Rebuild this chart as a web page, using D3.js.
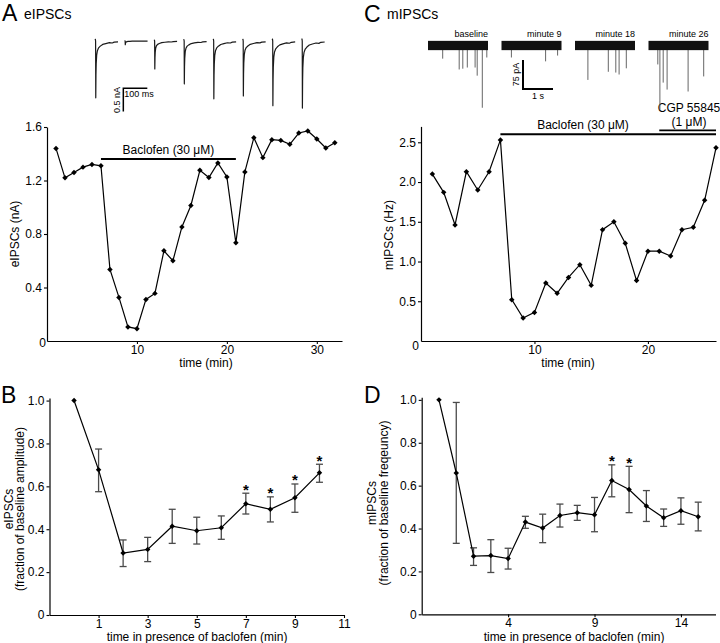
<!DOCTYPE html>
<html><head><meta charset="utf-8">
<script src="https://cdn.jsdelivr.net/npm/d3@7"></script>
<style>
body{margin:0;background:#fff}
svg{display:block}
text{font-family:"Liberation Sans",Arial,Helvetica,sans-serif;fill:#000}
</style>
</head><body>
<svg id="c" width="720" height="643"></svg>
<script>
// ---------- Panel A: eIPSC amplitude over time ----------
const aMinutes = [1,2,3,4,5,6,7,8,9,10,11,12,13,14,15,16,17,18,19,20,21,22,23,24,25,26,27,28,29,30,31,32];
const aAmplitudeNA = [1.44,1.22,1.26,1.30,1.32,1.31,0.535,0.326,0.105,0.092,0.311,0.356,0.674,0.600,0.853,1.013,1.276,1.222,1.331,1.227,0.734,1.264,1.520,1.371,1.505,1.500,1.471,1.555,1.570,1.510,1.443,1.483];
const aBaclofen = [6, 21];
const aBaclofenLevel = 1.36;
const aXTicks = [10, 20, 30];
const aYTicks = [0.4, 0.8, 1.2, 1.6];

// ---------- Panel C: mIPSC frequency over time ----------
const cMinutes = [1,2,3,4,5,6,7,8,9,10,11,12,13,14,15,16,17,18,19,20,21,22,23,24,25,26];
const cFrequencyHz = [2.10,1.87,1.46,2.13,1.90,2.13,2.53,0.52,0.29,0.36,0.73,0.60,0.80,0.96,0.70,1.40,1.50,1.23,0.76,1.13,1.13,1.07,1.40,1.43,1.77,2.43];
const cBaclofen = [7, 26];
const cBaclofenLevel = 2.60;
const cCgp = [21, 26];
const cCgpLevel = 2.65;
const cXTicks = [10, 20];
const cYTicks = [0.5, 1.0, 1.5, 2.0, 2.5];

// ---------- Panel B: normalized eIPSC ----------
const bMinutes = [0,1,2,3,4,5,6,7,8,9,10];
const bMean  = [1.0,0.677,0.289,0.306,0.414,0.393,0.407,0.519,0.493,0.547,0.663];
const bUpper = [1.0,0.774,0.350,0.362,0.493,0.456,0.462,0.568,0.551,0.611,0.703];
const bLower = [1.0,0.575,0.226,0.249,0.334,0.331,0.353,0.471,0.434,0.479,0.619];
const bSignificant = [7, 8, 9, 10];
const bXTicks = [1, 3, 5, 7, 9, 11];
const bYTicks = [0, 0.2, 0.4, 0.6, 0.8, 1.0];

// ---------- Panel D: normalized mIPSC ----------
const dMinutes = [0,1,2,3,4,5,6,7,8,9,10,11,12,13,14,15];
const dMean  = [1.0,0.659,0.271,0.274,0.260,0.430,0.402,0.461,0.474,0.464,0.624,0.582,0.505,0.450,0.483,0.455];
const dUpper = [1.0,0.988,0.310,0.348,0.308,0.457,0.467,0.514,0.508,0.545,0.697,0.690,0.577,0.491,0.543,0.523];
const dLower = [1.0,0.331,0.228,0.195,0.211,0.401,0.334,0.407,0.438,0.385,0.548,0.474,0.433,0.410,0.420,0.389];
const dSignificant = [10, 11];
const dXTicks = [4, 9, 14];
const dYTicks = [0, 0.2, 0.4, 0.6, 0.8, 1.0];

// ---------- Example traces ----------
const eSweepAmplitudeNA = [1.22, 0.08, 0.60, 0.92, 1.24, 1.18, 1.39, 1.44];
const eSweepShape = [[0,0.02],[1.5,0.03],[2.5,0],[3.2,-1],[4,-0.6],[5,-0.4],[7,-0.25],[10,-0.17],[15,-0.12],[22,-0.09],[32,-0.06],[45,-0.045],[60,-0.03],[72,-0.035],[80,-0.02],[96,-0.015]];
const eScaleNA = 0.5, eScaleMS = 100;
const mTraceLabels = ["baseline", "minute 9", "minute 18", "minute 26"];
const mTraceEvents = [
  [[0.49,34],[1.04,62],[1.16,60],[1.31,57],[1.57,57],[1.64,78],[1.81,161],[1.96,31]],
  [[0.33,31],[1.47,41],[1.87,26]],
  [[0.43,89],[1.11,68],[1.36,70],[1.47,75],[1.71,59]],
  [[0.31,49],[0.38,166],[0.49,96],[0.62,114],[1.32,119],[1.84,80]]
];
const mTraceDurationS = 2;
const mNoisePA = 12;
const mScalePA = 75, mScaleS = 1;

// ================= drawing =================
const svg = d3.select("#c");
const FONT = '"Liberation Sans",Arial,Helvetica,sans-serif';
const fmtY = d => d === 0 ? "0" : d3.format(".1f")(d);
const diamond = d3.symbol(d3.symbolSquare, 15);

function styleAxis(g){
  g.attr("font-size", 12).attr("font-family", FONT);
  g.selectAll("path.domain").attr("stroke", "#000").attr("stroke-width", 1.2);
  g.selectAll(".tick line").attr("stroke", "#000").attr("stroke-width", 1.1);
  g.selectAll(".tick text").attr("fill", "#000");
}

function axes(x, y, xTicks, yTicks, yFmt, yAxisX){
  svg.append("g").attr("transform", `translate(0,${y.range()[0]})`)
    .call(d3.axisBottom(x).tickValues(xTicks).tickSize(3).tickSizeOuter(0).tickPadding(1).tickFormat(d3.format("d")))
    .call(styleAxis);
  svg.append("g").attr("transform", `translate(${yAxisX},0)`)
    .call(d3.axisLeft(y).tickValues(yTicks).tickSize(3).tickSizeOuter(0).tickPadding(2).tickFormat(yFmt))
    .call(styleAxis);
}

function series(x, y, xs, ys){
  const pts = xs.map((d,i)=>[x(d), y(ys[i])]);
  svg.append("path").attr("d", d3.line()(pts)).attr("fill","none").attr("stroke","#000").attr("stroke-width",1.2);
  svg.append("g").selectAll("path").data(pts).join("path")
    .attr("d", diamond).attr("fill","#000")
    .attr("transform", d=>`translate(${d[0]},${d[1]}) rotate(45)`);
}

function errorBars(x, y, xs, up, lo){
  const g = svg.append("g").attr("stroke","#4a4a4a").attr("stroke-width",1.3).attr("fill","none");
  xs.forEach((d,i)=>{
    if (up[i] === lo[i]) return;
    const cx = x(d);
    g.append("line").attr("x1",cx).attr("x2",cx).attr("y1",y(up[i])).attr("y2",y(lo[i]));
    g.append("line").attr("x1",cx-3.5).attr("x2",cx+3.5).attr("y1",y(up[i])).attr("y2",y(up[i]));
    g.append("line").attr("x1",cx-3.5).attr("x2",cx+3.5).attr("y1",y(lo[i])).attr("y2",y(lo[i]));
  });
}

function stars(x, y, xs, up, sig){
  sig.forEach(m=>{
    const i = xs.indexOf(m);
    svg.append("text").attr("x", x(m)).attr("y", y(up[i]) + 1.5)
      .attr("text-anchor","middle").attr("font-size",15).attr("font-weight","bold").text("*");
  });
}

function text(x, y, s, size, anchor, rot){
  const t = svg.append("text").attr("font-size", size).attr("text-anchor", anchor || "start");
  if (rot) t.attr("transform", `translate(${x},${y}) rotate(${rot})`);
  else t.attr("x", x).attr("y", y);
  t.text(s);
  return t;
}

// ---- Panel A ----
const ax = d3.scaleLinear().domain([0, 32.8]).range([47, 342]);
const ay = d3.scaleLinear().domain([0, 1.6]).range([341, 127]);
axes(ax, ay, aXTicks, aYTicks, fmtY, ax(0));
text(46, 347, "0", 12, "end");
series(ax, ay, aMinutes, aAmplitudeNA);
svg.append("line").attr("x1", ax(aBaclofen[0])).attr("x2", ax(aBaclofen[1]))
  .attr("y1", ay(aBaclofenLevel)).attr("y2", ay(aBaclofenLevel)).attr("stroke","#000").attr("stroke-width",2);
text(ax((aBaclofen[0]+aBaclofen[1])/2), 154, "Baclofen (30 \u03bcM)", 12, "middle");
text(19, 234, "eIPSCs (nA)", 12, "middle", -90);
text(206, 367, "time (min)", 12, "middle");
text(2, 21, "A", 23);
text(24, 19, "eIPSCs", 14);

// ---- Panel C ----
const cx = d3.scaleLinear().domain([0, 26]).range([421, 716]);
const cy = d3.scaleLinear().domain([0, 2.7]).range([341, 126.4]);
axes(cx, cy, cXTicks, cYTicks, fmtY, cx(0));
text(419, 350, "0", 12, "end");
series(cx, cy, cMinutes, cFrequencyHz);
svg.append("line").attr("x1", cx(cBaclofen[0])).attr("x2", cx(cBaclofen[1]))
  .attr("y1", cy(cBaclofenLevel)).attr("y2", cy(cBaclofenLevel)).attr("stroke","#000").attr("stroke-width",2);
svg.append("line").attr("x1", cx(cCgp[0])).attr("x2", cx(cCgp[1]))
  .attr("y1", cy(cCgpLevel)).attr("y2", cy(cCgpLevel)).attr("stroke","#000").attr("stroke-width",1.6);
text(583, 129, "Baclofen (30 \u03bcM)", 12, "middle");
text(689, 112, "CGP 55845", 12, "middle");
text(689, 126, "(1 \u03bcM)", 12, "middle");
text(393, 235, "mIPSCs (Hz)", 12, "middle", -90);
text(568, 367, "time (min)", 12, "middle");
text(364, 22, "C", 23);
text(387, 19, "mIPSCs", 14);

// ---- Panel B ----
const bx = d3.scaleLinear().domain([-1, 11]).range([49.5, 344]);
const by = d3.scaleLinear().domain([0, 1.012]).range([615, 398]);
axes(bx, by, bXTicks, bYTicks, fmtY, bx(-1));
errorBars(bx, by, bMinutes, bUpper, bLower);
series(bx, by, bMinutes, bMean);
stars(bx, by, bMinutes, bUpper, bSignificant);
{
  const t = svg.append("text").attr("font-size",12).attr("text-anchor","middle")
    .attr("transform","translate(12.5,509) rotate(-90)");
  t.append("tspan").attr("x",0).attr("dy",0).text("eIPSCs");
  t.append("tspan").attr("x",0).attr("dy",11.5).text("(fraction of baseline amplitude)");
}
text(197, 641, "time in presence of baclofen (min)", 12, "middle");
text(1, 403, "B", 23);

// ---- Panel D ----
const dx = d3.scaleLinear().domain([-1, 16]).range([421.7, 715.5]);
const dy = d3.scaleLinear().domain([0, 1.012]).range([614.3, 397.3]);
axes(dx, dy, dXTicks, dYTicks, fmtY, dx(-1));
errorBars(dx, dy, dMinutes, dUpper, dLower);
series(dx, dy, dMinutes, dMean);
stars(dx, dy, dMinutes, dUpper, dSignificant);
{
  const t = svg.append("text").attr("font-size",12).attr("text-anchor","middle")
    .attr("transform","translate(376,503) rotate(-90)");
  t.append("tspan").attr("x",0).attr("dy",0).text("mIPSCs");
  t.append("tspan").attr("x",0).attr("dy",11.5).text("(fraction of baseline freqeuncy)");
}
text(574, 641, "time in presence of baclofen (min)", 12, "middle");
text(364, 403, "D", 23);

// ---- eIPSC example sweeps ----
const ex = d3.scaleLinear().domain([0, 1000]).range([95, 335]);   // ms
const ey = d3.scaleLinear().domain([-1.6, 0]).range([41 + 1.6*46.6, 41]); // nA
const sweepGapMS = 123;
eSweepAmplitudeNA.forEach((amp, k)=>{
  const pts = eSweepShape.map(([t,f]) => [ex(k*sweepGapMS + t), ey(f*amp)]);
  svg.append("path").attr("d", d3.line()(pts)).attr("fill","none")
    .attr("stroke","#1a1a1a").attr("stroke-width",1.2).attr("stroke-linejoin","round");
});
{
  const x0 = ex(118), y0 = 88.3;
  const hLen = ex(eScaleMS) - ex(0), vLen = ey(0) - ey(-eScaleNA);
  svg.append("path").attr("d", `M${x0},${y0 - vLen}V${y0}H${x0 + hLen}`)
    .attr("fill","none").attr("stroke","#000").attr("stroke-width",1.5);
  text(x0 - 3, y0 - vLen/2, "0.5 nA", 9, "middle", -90);
  text(x0 + 1, 96.5, "100 ms", 9, "start");
}

// ---- mIPSC example traces ----
const mx = d3.scaleLinear().domain([0, 10]).range([428, 728]);     // s
const my = d3.scaleLinear().domain([0, 75]).range([45.5, 45.5 + 29]); // pA, downward
const traceGapS = 2.45;
mTraceEvents.forEach((events, k)=>{
  const t0 = k*traceGapS;
  const g = svg.append("g");
  events.forEach(([t, amp])=>{
    g.append("line").attr("x1", mx(t0+t)).attr("x2", mx(t0+t))
      .attr("y1", my(0)).attr("y2", my(amp)).attr("stroke","#666").attr("stroke-width",1);
  });
  g.append("rect").attr("x", mx(t0)).attr("width", mx(t0+mTraceDurationS) - mx(t0))
    .attr("y", my(-mNoisePA)).attr("height", my(mNoisePA) - my(-mNoisePA)).attr("fill","#111");
  text(mx(t0 + mTraceDurationS), 37, mTraceLabels[k], 9, "end");
});
{
  const x0 = 523, y0 = 89;
  const hLen = mx(mScaleS) - mx(0), vLen = my(mScalePA) - my(0);
  svg.append("path").attr("d", `M${x0},${y0 - vLen}V${y0}H${x0 + hLen}`)
    .attr("fill","none").attr("stroke","#000").attr("stroke-width",2);
  text(x0 - 4, y0 - vLen/2, "75 pA", 9, "middle", -90);
  text(x0 + hLen/2, 98.5, "1 s", 9, "middle");
}
</script>
</body></html>
